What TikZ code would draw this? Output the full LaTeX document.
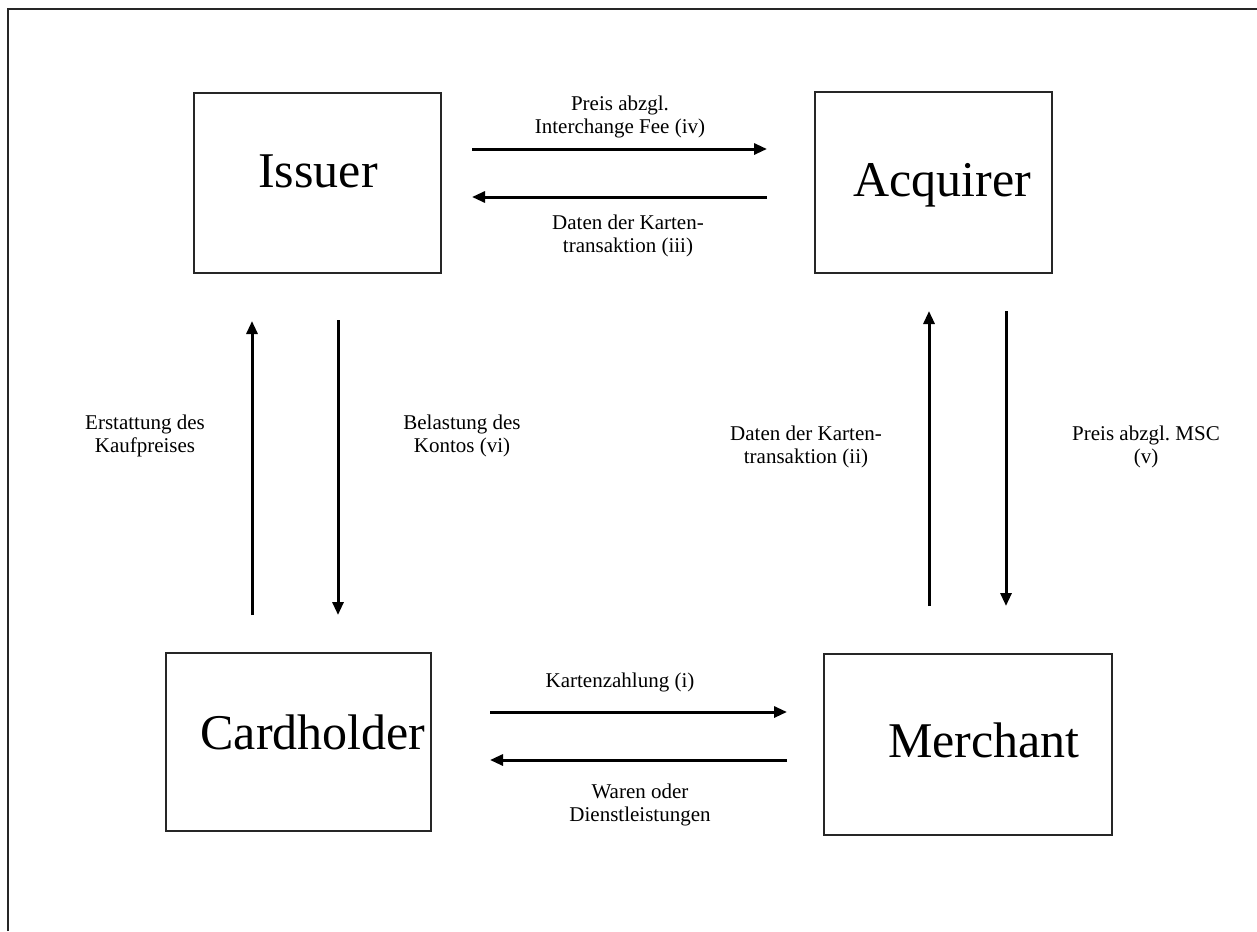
\documentclass[tikz,border=0pt]{standalone}
\usepackage{fontspec}
\setmainfont{Liberation Serif}
\usetikzlibrary{arrows.meta}

\begin{document}
\begin{tikzpicture}[x=1pt, y=-1pt, >={Triangle[length=13pt,width=11pt]},
  box/.style={draw=black!85, line width=1.4pt, rectangle, inner sep=0pt},
  big/.style={font=\fontsize{50}{56}\selectfont, inner sep=0pt, anchor=base},
  lbl/.style={font=\fontsize{21}{23}\selectfont, align=center, inner sep=0pt},
  flow/.style={->, line width=3pt}]

\useasboundingbox (0,0) rectangle (1257,931);
\draw[line width=2.6pt, black!85] (8,931) -- (8,9) -- (1257,9);

% the four parties
\node[box, minimum width=247pt, minimum height=180pt] (issuer)     at (317.5,183)  {};
\node[box, minimum width=237pt, minimum height=181pt] (acquirer)   at (933.5,182.5) {};
\node[box, minimum width=265pt, minimum height=178pt] (cardholder) at (298.5,742)  {};
\node[box, minimum width=288pt, minimum height=181pt] (merchant)   at (968,744.5)  {};

\node[big] (issuertxt)     at (318,187) {Issuer};
\node[big] (acquirertxt)   at (942,196) {Acquirer};
\node[big] (cardholdertxt) at (313,749) {Cardholder};
\node[big] (merchanttxt)   at (984,757) {Merchant};

% arrow ends
\coordinate (ivs) at (472,149);  \coordinate (ive) at (767,149);
\coordinate (iiis) at (767,197); \coordinate (iiie) at (472,197);
\coordinate (rfs) at (252,615);  \coordinate (rfe) at (252,321);
\coordinate (vis) at (338,320);  \coordinate (vie) at (338,615);
\coordinate (iis) at (929,606);  \coordinate (iie) at (929,311);
\coordinate (vs) at (1006,311);  \coordinate (ve) at (1006,606);
\coordinate (is) at (490,712);   \coordinate (ie) at (787,712);
\coordinate (gs) at (787,760);   \coordinate (ge) at (490,760);

\draw[flow] (ivs) -- (ive);
\draw[flow] (iiis) -- (iiie);
\draw[flow] (rfs) -- (rfe);
\draw[flow] (vis) -- (vie);
\draw[flow] (iis) -- (iie);
\draw[flow] (vs) -- (ve);
\draw[flow] (is) -- (ie);
\draw[flow] (gs) -- (ge);

\node[lbl] (ivtxt)   at (620,117)  {Preis abzgl.\\Interchange Fee (iv)};
\node[lbl] (iiitxt)  at (628,236)  {Daten der Karten-\\transaktion (iii)};
\node[lbl] (rftxt)   at (145,436)  {Erstattung des\\Kaufpreises};
\node[lbl] (vitxt)   at (462,436)  {Belastung des\\Kontos (vi)};
\node[lbl] (iitxt)   at (806,447)  {Daten der Karten-\\transaktion (ii)};
\node[lbl] (vtxt)    at (1146,447) {Preis abzgl.\ MSC\\(v)};
\node[lbl] (itxt)    at (620,682)  {Kartenzahlung (i)};
\node[lbl] (gtxt)    at (640,805)  {Waren oder\\Dienstleistungen};

\end{tikzpicture}
\end{document}
